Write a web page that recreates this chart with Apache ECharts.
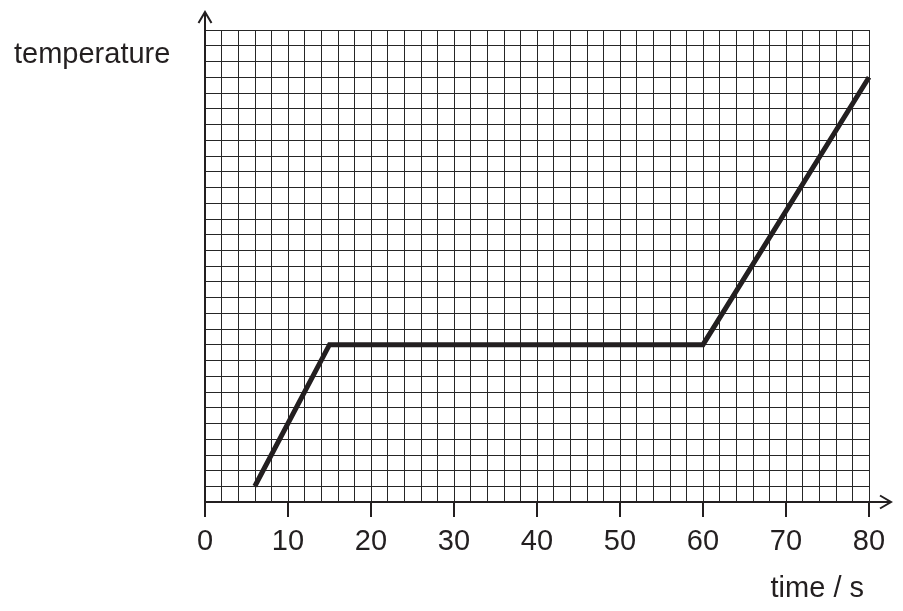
<!DOCTYPE html>
<html>
<head>
<meta charset="utf-8">
<script src="https://cdn.jsdelivr.net/npm/echarts@6/dist/echarts.min.js"></script>
<style>html,body{margin:0;padding:0;background:#fff}#c{width:903px;height:611px}</style>
</head>
<body>
<div id="c"></div>
<script>
const timeValues = [6, 15, 60, 80];
const temperatureValues = [1, 10, 10, 27];
const xTickLabels = [0, 10, 20, 30, 40, 50, 60, 70, 80];
const yAxisName = 'temperature';
const xAxisName = 'time / s';

const ink = '#231f20';
const gridColor = '#262626';
const font = '"Liberation Sans", Arial, Helvetica, sans-serif';

const chart = echarts.init(document.getElementById('c'));
chart.setOption({
  animation: false,
  backgroundColor: '#fff',
  title: [
    { text: yAxisName, left: 9, top: 35, textStyle: { fontFamily: font, fontSize: 29, fontWeight: 'normal', color: ink } },
    { text: xAxisName, right: 34, top: 569, textStyle: { fontFamily: font, fontSize: 29, fontWeight: 'normal', color: ink } }
  ],
  grid: { left: 205, right: 34, top: 30, bottom: 109, containLabel: false },
  xAxis: {
    type: 'value', min: xTickLabels[0], max: xTickLabels[xTickLabels.length - 1], interval: 10,
    axisLine: { show: true, onZero: false, lineStyle: { color: ink, width: 2 } },
    axisTick: { show: true, length: 15, lineStyle: { color: ink, width: 2 } },
    axisLabel: { show: true, margin: 25, fontFamily: font, fontSize: 29, color: ink,
      formatter: v => xTickLabels.indexOf(v) >= 0 ? String(v) : '' },
    splitLine: { show: true, lineStyle: { color: gridColor, width: 1 } },
    minorTick: { show: false, splitNumber: 5 },
    minorSplitLine: { show: true, lineStyle: { color: gridColor, width: 1 } }
  },
  yAxis: {
    type: 'value', min: 0, max: 30, interval: 1,
    axisLine: { show: true, onZero: false, lineStyle: { color: ink, width: 2 } },
    axisTick: { show: false },
    axisLabel: { show: false },
    splitLine: { show: true, lineStyle: { color: gridColor, width: 1 } }
  },
  series: [{
    type: 'line',
    data: timeValues.map((t, i) => [t, temperatureValues[i]]),
    symbol: 'none',
    lineStyle: { color: ink, width: 5, join: 'miter' },
    z: 5
  }]
});

// axis arrow extensions, positioned from the library's own scales
const xEnd = chart.convertToPixel({ gridIndex: 0 }, [80, 0]);
const yEnd = chart.convertToPixel({ gridIndex: 0 }, [0, 30]);
const ext = 22;
chart.setOption({
  graphic: [
    { type: 'line', shape: { x1: xEnd[0], y1: xEnd[1], x2: xEnd[0] + ext, y2: xEnd[1] }, style: { stroke: ink, lineWidth: 2 } },
    { type: 'polyline', shape: { points: [[xEnd[0] + ext - 11, xEnd[1] - 6.5], [xEnd[0] + ext, xEnd[1]], [xEnd[0] + ext - 11, xEnd[1] + 6.5]] }, style: { stroke: ink, lineWidth: 2, fill: null } },
    { type: 'line', shape: { x1: yEnd[0], y1: yEnd[1], x2: yEnd[0], y2: yEnd[1] - 18 }, style: { stroke: ink, lineWidth: 2 } },
    { type: 'polyline', shape: { points: [[yEnd[0] - 6.5, yEnd[1] - 7], [yEnd[0], yEnd[1] - 18], [yEnd[0] + 6.5, yEnd[1] - 7]] }, style: { stroke: ink, lineWidth: 2, fill: null } }
  ]
});
</script>
</body>
</html>
